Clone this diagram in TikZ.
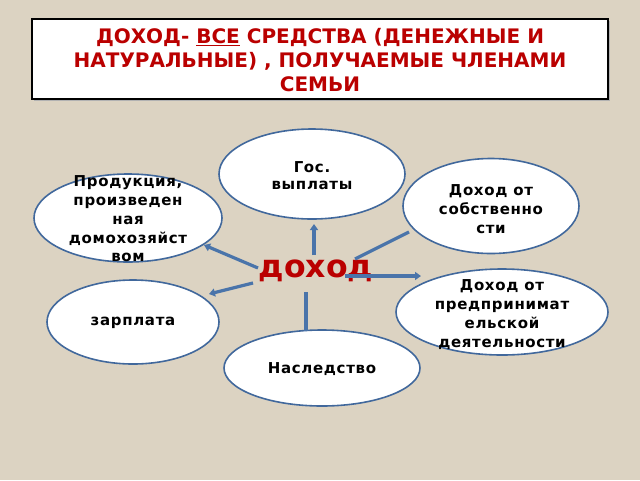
\documentclass[tikz,border=0pt]{standalone}
\usepackage{fontspec}
\setmainfont{DejaVu Sans}
\newfontfamily\ovalfont[LetterSpace=4.5]{DejaVu Sans}
\usetikzlibrary{shapes.geometric,arrows.meta}
\definecolor{bgc}{HTML}{DCD3C2}
\definecolor{titlered}{HTML}{BA0000}
\definecolor{edgeblue}{HTML}{41689C}
\definecolor{linkblue}{HTML}{4A74AA}
\tikzset{
  oval/.style={ellipse, draw=edgeblue, line width=1.6pt, fill=white, inner sep=0pt},
  ovaltext/.style={font=\ovalfont\bfseries\fontsize{15}{#1}\selectfont, align=center, text=black},
  link/.style={draw=linkblue, line width=3.2pt},
  tip/.style={-{Triangle[length=6pt,width=8pt]}},
}
\begin{document}
\begin{tikzpicture}[x=1pt,y=-1pt]
\fill[bgc] (0,0) rectangle (640,480);
\useasboundingbox (0,0) rectangle (640,480);
% title
\fill[black!30] (34,21) rectangle (610,101);
\node[draw=black, line width=1.2pt, fill=white, minimum width=576pt, minimum height=80pt, inner sep=0pt] (title) at (320,59) {};
\node[text=titlered, font=\bfseries\fontsize{20}{24}\selectfont, align=center] (titletext) at (320,60)
  {ДОХОД- \underline{ВСЕ} СРЕДСТВА (ДЕНЕЖНЫЕ И\\НАТУРАЛЬНЫЕ) , ПОЛУЧАЕМЫЕ ЧЛЕНАМИ\\СЕМЬИ};
% ovals
\node[oval, minimum width=186pt, minimum height=90pt] (gos) at (312,174) {};
\node[ovaltext=17] (gost) at (312,176) {Гос.\\выплаты};
\node[oval, minimum width=188pt, minimum height=88pt] (prod) at (128,218) {};
\node[ovaltext=18.8] (prodt) at (128,219) {Продукция,\\произведен\\ная\\домохозяйст\\вом};
\node[oval, minimum width=176pt, minimum height=95pt] (sob) at (491,206) {};
\node[ovaltext=19] (sobt) at (491,209) {Доход от\\собственно\\сти};
\node[oval, minimum width=172pt, minimum height=84pt] (zar) at (133,322) {};
\node[ovaltext=18] (zart) at (133,323) {зарплата};
\node[oval, minimum width=212pt, minimum height=86pt] (pred) at (502,312) {};
\node[ovaltext=19] (predt) at (502,315) {Доход от\\предпринимат\\ельской\\деятельности};
\node[oval, minimum width=196pt, minimum height=76pt] (nasl) at (322,368) {};
\node[ovaltext=18] (naslt) at (322,369) {Наследство};
% centre
\node[text=titlered, font=\bfseries\fontsize{31.5}{36}\selectfont, inner sep=0pt] (dohod) at (316,271) {доход};
% connectors
\coordinate (c1) at (314,255); \coordinate (e1) at (314,224);
\coordinate (c2) at (258,268); \coordinate (e2) at (204,245);
\coordinate (c3) at (355,259); \coordinate (e3) at (409,232);
\coordinate (c4) at (345,276); \coordinate (e4) at (421,276);
\coordinate (c5) at (253,283); \coordinate (e5) at (209,294);
\coordinate (c6) at (306,292); \coordinate (e6) at (306,331);
\draw[link,tip] (c1) -- (e1);
\draw[link,tip] (c2) -- (e2);
\draw[link] (c3) -- (e3);
\draw[link,tip] (c4) -- (e4);
\draw[link,tip] (c5) -- (e5);
\draw[link] (c6) -- (e6);
\end{tikzpicture}
\end{document}
